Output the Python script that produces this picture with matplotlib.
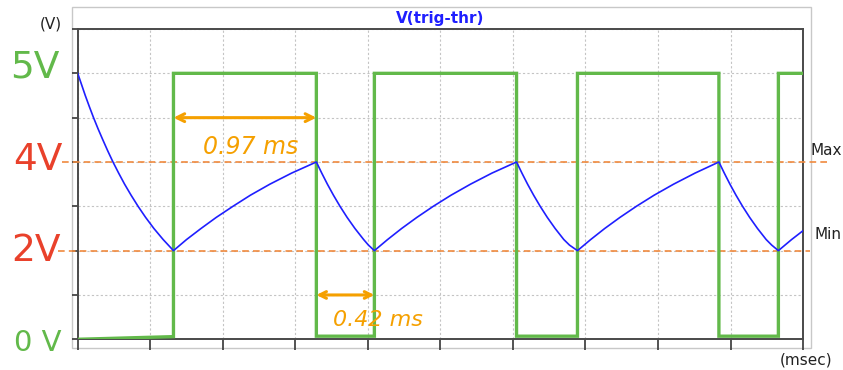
import matplotlib.pyplot as plt
from matplotlib.patches import Rectangle

# time axis (msec), one division = 0.5 ms
x_max = 5.0
y_max = 7.0
x_grid = [0.5 * i for i in range(11)]
y_grid = [0, 1, 2, 3, 4, 5, 6, 7]

# V(trig-thr) capacitor voltage
cap_t = [0.0, 0.026, 0.052, 0.080, 0.109, 0.140, 0.173, 0.207, 0.243, 0.282,
         0.323, 0.368, 0.416, 0.468, 0.525, 0.589, 0.66,
         0.75, 0.85, 0.955, 1.07, 1.19, 1.325, 1.475, 1.645,
         1.682, 1.721, 1.763, 1.808, 1.857, 1.911, 1.971, 2.004, 2.045,
         2.136, 2.233, 2.338, 2.451, 2.573, 2.708, 2.856, 3.025,
         3.062, 3.101, 3.143, 3.188, 3.237, 3.291, 3.351, 3.39, 3.445,
         3.536, 3.633, 3.738, 3.851, 3.973, 4.108, 4.256, 4.42,
         4.457, 4.496, 4.538, 4.583, 4.632, 4.686, 4.746, 4.784, 4.83,
         4.921, 5.0]
cap_v = [6.0, 5.75, 5.5, 5.25, 5.0, 4.75, 4.5, 4.25, 4.0, 3.75,
         3.5, 3.25, 3.0, 2.75, 2.5, 2.25, 2.0,
         2.25, 2.5, 2.75, 3.0, 3.25, 3.5, 3.75, 4.0,
         3.75, 3.5, 3.25, 3.0, 2.75, 2.5, 2.25, 2.125, 2.0,
         2.25, 2.5, 2.75, 3.0, 3.25, 3.5, 3.75, 4.0,
         3.75, 3.5, 3.25, 3.0, 2.75, 2.5, 2.25, 2.125, 2.0,
         2.25, 2.5, 2.75, 3.0, 3.25, 3.5, 3.75, 4.0,
         3.75, 3.5, 3.25, 3.0, 2.75, 2.5, 2.25, 2.125, 2.0,
         2.25, 2.45]

# output square wave
out_t = [0.0, 0.66, 0.66, 1.645, 1.645, 2.045, 2.045, 3.025, 3.025,
         3.445, 3.445, 4.42, 4.42, 4.83, 4.83, 5.0]
out_v = [0.0, 0.06, 6.0, 6.0, 0.07, 0.07, 6.0, 6.0, 0.07,
         0.07, 6.0, 6.0, 0.07, 0.07, 6.0, 6.0]

v_max = 4.0
v_min = 2.0
charge_span = (0.66, 1.645)
discharge_span = (1.645, 2.045)

green = '#62b94a'
red = '#e9412b'
orange = '#f08a3e'
amber = '#f5a000'

fig = plt.figure(figsize=(8.43, 3.70), dpi=100)
ax = fig.add_axes([0.0922, 0.083, 0.8604, 0.8386])

fig.add_artist(Rectangle((0.0854, 0.0595), 0.8766, 0.9216, transform=fig.transFigure,
                         fill=False, edgecolor='#c8c8c8', lw=1.0, zorder=0))

ax.set_xlim(0, x_max)
ax.set_ylim(0, y_max)
ax.set_xticks(x_grid)
ax.set_yticks(y_grid)
ax.set_xticklabels([])
ax.set_yticklabels([])
ax.tick_params(axis='x', direction='out', length=8, width=1.3, color='#444444')
ax.tick_params(axis='y', direction='out', length=4, width=1.3, color='#444444')
ax.grid(True, color='#c4c4c4', lw=0.8, linestyle=(0, (2, 2)))
for s in ax.spines.values():
    s.set_color('#4a4a4a')
    s.set_linewidth(1.4)

# threshold levels
ytr = ax.get_yaxis_transform()
ax.plot([-0.022, 1.035], [v_max, v_max], transform=ytr, color=orange, lw=1.2,
        dashes=(4, 2.5), clip_on=False, zorder=3)
ax.plot([-0.027, 1.01], [v_min, v_min], transform=ytr, color=orange, lw=1.2,
        dashes=(4, 2.5), clip_on=False, zorder=3)

ax.plot(out_t, out_v, color=green, lw=2.4, zorder=4, solid_joinstyle='miter')
ax.plot(cap_t, cap_v, color='#1f1fff', lw=1.2, zorder=5)

# measured times
ax.annotate('', xy=(charge_span[0], 5), xytext=(charge_span[1], 5),
            arrowprops=dict(arrowstyle='<->', color=amber, lw=2.2, mutation_scale=14,
                            shrinkA=0, shrinkB=0), zorder=6)
ax.annotate('', xy=(discharge_span[0], 1), xytext=(discharge_span[1], 1),
            arrowprops=dict(arrowstyle='<->', color=amber, lw=2.2, mutation_scale=12,
                            shrinkA=0, shrinkB=0), zorder=6)
ax.text(1.19, 4.33, '0.97 ms', color=amber, fontsize=17, style='italic',
        ha='center', va='center', zorder=6)
ax.text(2.07, 0.44, '0.42 ms', color=amber, fontsize=16, style='italic',
        ha='center', va='center', zorder=6)

ax.set_title('V(trig-thr)', color='#1f1fff', fontsize=11, fontweight='bold', pad=4)

# hand-written level labels
fig.text(35 / 843, 1 - 67 / 370, '5V', color=green, fontsize=27, ha='center', va='center')
fig.text(38 / 843, 1 - 160 / 370, '4V', color=red, fontsize=27, ha='center', va='center')
fig.text(36 / 843, 1 - 251 / 370, '2V', color=red, fontsize=27, ha='center', va='center')
fig.text(38 / 843, 1 - 343 / 370, '0 V', color=green, fontsize=21, ha='center', va='center')

fig.text(62 / 843, 1 - 24 / 370, '(V)', color='#222222', fontsize=11, ha='right', va='center')
fig.text(806 / 843, 1 - 360 / 370, '(msec)', color='#222222', fontsize=11, ha='center', va='center')
fig.text(811 / 843, 1 - 150 / 370, 'Max', color='#222222', fontsize=11, ha='left', va='center')
fig.text(814 / 843, 1 - 235 / 370, 'Min', color='#222222', fontsize=11, ha='left', va='center')

fig.savefig('out.png', dpi=100)
